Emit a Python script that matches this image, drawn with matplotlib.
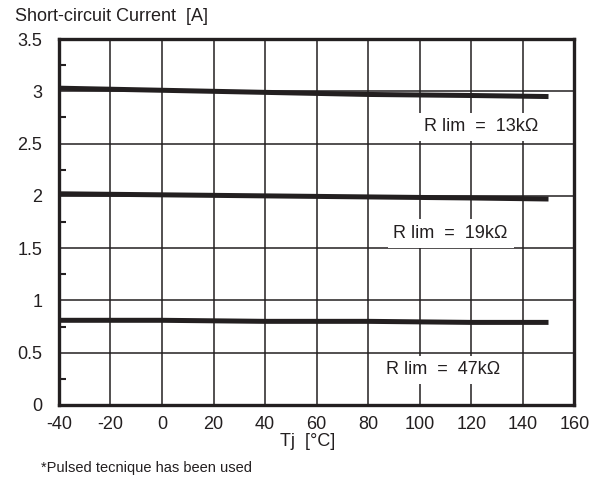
import matplotlib
matplotlib.use("Agg")
import matplotlib.pyplot as plt
from matplotlib.ticker import MultipleLocator

plt.rcParams['font.family'] = ['Liberation Sans', 'DejaVu Sans']

temps = [-40, 0, 40, 80, 120, 150]
i_13k = [3.03, 3.01, 2.99, 2.97, 2.96, 2.95]
i_19k = [2.02, 2.01, 2.00, 1.99, 1.98, 1.97]
i_47k = [0.81, 0.81, 0.80, 0.80, 0.79, 0.79]
series_labels = ["R lim  =  13kΩ", "R lim  =  19kΩ", "R lim  =  47kΩ"]
label_pos = [(124, 2.66), (112, 1.64), (109, 0.335)]
xticks = [-40, -20, 0, 20, 40, 60, 80, 100, 120, 140, 160]
yticks = [0, 0.5, 1, 1.5, 2, 2.5, 3, 3.5]
ytick_labels = ["0", "0.5", "1", "1.5", "2", "2.5", "3", "3.5"]

ink = '#231f20'
fs = 13
fig = plt.figure(figsize=(5.89, 4.79), dpi=100)
ax = fig.add_axes([0.100, 0.1545, 0.875, 0.764])

ax.set_xlim(-40, 160)
ax.set_ylim(0, 3.5)
ax.set_xticks(xticks)
ax.set_xticklabels([str(t) for t in xticks], fontsize=fs, color=ink)
ax.set_yticks(yticks)
ax.set_yticklabels(ytick_labels, fontsize=fs, color=ink)
ax.yaxis.set_minor_locator(MultipleLocator(0.25))
ax.tick_params(axis='both', which='major', length=0)
ax.tick_params(axis='x', which='major', pad=8)
ax.tick_params(axis='y', which='major', pad=12)
ax.tick_params(axis='y', which='minor', direction='in', length=5, width=1.5, color=ink)
ax.tick_params(axis='x', which='minor', length=0)

ax.grid(True, which='major', color=ink, linewidth=1.1)
ax.set_axisbelow(True)
for s in ax.spines.values():
    s.set_linewidth(2.4)
    s.set_color(ink)

for ys in (i_13k, i_19k, i_47k):
    ax.plot(temps, ys, color=ink, linewidth=3.6, solid_capstyle='butt', zorder=3)

for lab, (lx, ly) in zip(series_labels, label_pos):
    ax.text(lx, ly, lab, fontsize=fs, color=ink, ha='center', va='center', zorder=4,
            bbox=dict(boxstyle='square,pad=0.32', facecolor='white', edgecolor='none'))

fig.text(15/589, 1 - 16.5/479, "Short-circuit Current  [A]", fontsize=fs, color=ink,
         ha='left', va='center')
fig.text(308/589, 1 - 442/479, "Tj  [°C]", fontsize=fs, color=ink, ha='center', va='center')
fig.text(41/589, 1 - 468/479, "*Pulsed tecnique has been used", fontsize=10.5, color=ink,
         ha='left', va='center')

fig.savefig("out.png", dpi=100)
